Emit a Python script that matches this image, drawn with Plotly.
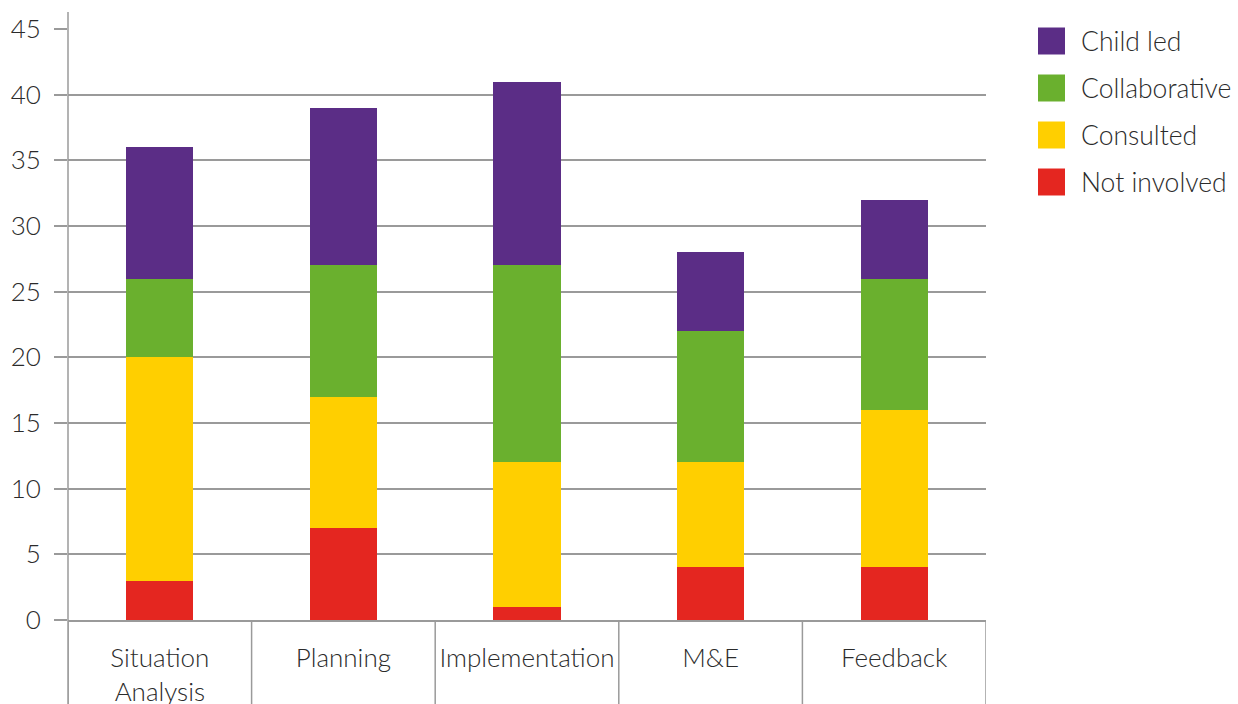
import plotly.graph_objects as go

categories = ["Situation<br>Analysis", "Planning", "Implementation", "M&E", "Feedback"]
not_involved = [3, 7, 1, 4, 4]
consulted = [17, 10, 11, 8, 12]
collaborative = [6, 10, 15, 10, 10]
child_led = [10, 12, 14, 6, 6]

series_names = ["Not involved", "Consulted", "Collaborative", "Child led"]
series_values = [not_involved, consulted, collaborative, child_led]
series_colors = ["#E42620", "#FFCF00", "#6AB02E", "#5B2D86"]

FONT = "Lato"
TXT = "#2b2b2b"
GRID = "#9a9a9a"

fig = go.Figure()
for name, vals, col in zip(series_names, series_values, series_colors):
    fig.add_trace(go.Bar(x=categories, y=vals, name=name, marker=dict(color=col, line=dict(width=0)),
                         width=0.365, showlegend=False))

W, H = 1238, 704
ml, mr, mt, mb = 68, 252, 29, 84
plot_h = H - mt - mb
plot_w = W - ml - mr

fig.update_layout(
    width=W, height=H, barmode="stack",
    margin=dict(l=ml, r=mr, t=mt, b=mb, pad=0, autoexpand=False),
    paper_bgcolor="white", plot_bgcolor="white",
    font=dict(family=FONT, color=TXT, size=26, weight=300),
    bargap=0,
)
fig.update_yaxes(range=[0, 45], dtick=5, showgrid=True, gridcolor=GRID, gridwidth=1.5,
                 ticks="outside", ticklen=13, tickcolor=GRID, tickwidth=1.5,
                 ticklabelstandoff=8, zeroline=False, showline=False, automargin=False,
                 tickfont=dict(size=26, family=FONT, color=TXT, weight=300))
fig.update_xaxes(showgrid=False, showline=True, linecolor=GRID, linewidth=1.5, ticks="",
                 tickfont=dict(size=26, family=FONT, color=TXT, weight=300), automargin=False,
                 ticklabelstandoff=14, range=[-0.5, 4.5])

# y axis line extended
fig.add_shape(type="line", xref="paper", yref="paper", x0=0, x1=0,
              y0=-mb / plot_h, y1=1 + 17 / plot_h, line=dict(color=GRID, width=1.5))
# category dividers
for i in range(len(categories) + 1):
    fig.add_shape(type="line", xref="x", yref="paper", x0=i - 0.5, x1=i - 0.5,
                  y0=-mb / plot_h, y1=0, line=dict(color=GRID, width=1.5))

# manual legend
leg_x0 = (1038 - ml) / plot_w
leg_x1 = (1065 - ml) / plot_w
for k, (name, col) in enumerate(zip(series_names[::-1], series_colors[::-1])):
    cy = 41 + k * 47
    yc = (H - mb - cy) / plot_h
    half = 13.5 / plot_h
    fig.add_shape(type="rect", xref="paper", yref="paper", x0=leg_x0, x1=leg_x1,
                  y0=yc - half, y1=yc + half, fillcolor=col, line=dict(width=0))
    fig.add_annotation(xref="paper", yref="paper", x=(1079 - ml) / plot_w, y=yc, text=name,
                       showarrow=False, xanchor="left", yanchor="middle",
                       font=dict(size=26.5, family=FONT, color=TXT, weight=300))

fig.write_html("out.html")
